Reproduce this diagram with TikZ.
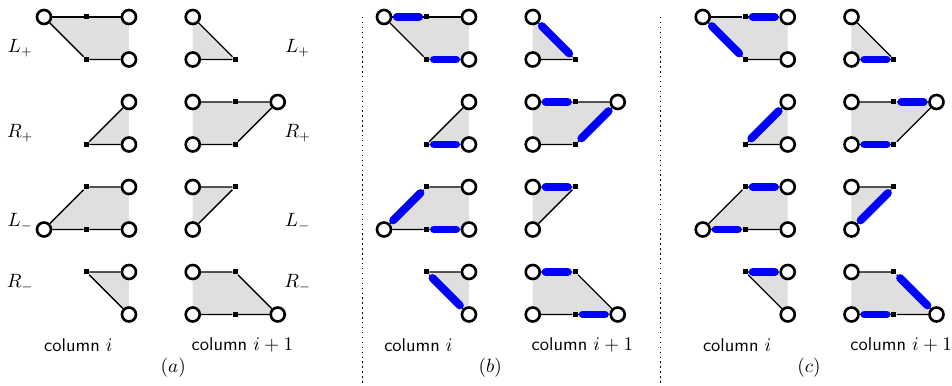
\documentclass[tikz,border=0pt]{standalone}
\usepackage{amsmath}
\usetikzlibrary{backgrounds}

\begin{document}
\begin{tikzpicture}[x=0.85cm, y=0.85cm,
    font=\fontsize{10.5}{12.5}\selectfont,
    pt/.style={circle, draw, line width=1.5pt, fill=white,
        minimum size=0.28cm, inner sep=0pt},
    sq/.style={rectangle, fill=black, minimum size=0.1cm, inner sep=0pt},
    edge/.style={thick},
    cell/.style={fill=gray!25},
    hl/.style={blue, line width=4.5pt, line cap=round,
        shorten <=2.6pt, shorten >=2.6pt},
    sep/.style={dotted, thick}
]
\useasboundingbox (-1.035,0.4) rectangle (21.365,-8.659);

% The same eight cells in each panel
\foreach \p/\dx/\cx in {a/0/3.04, b/8/2.5, c/15.5/2.5} {
  \begin{scope}[shift={(\dx,0)}]
    % L_+
    \node[pt] (\p-0-0) at (0,0) {};
    \node[sq] (\p-1-0) at (1,0) {};
    \node[pt] (\p-2-0) at (2,0) {};
    \node[sq] (\p-1-1) at (1,-1) {};
    \node[pt] (\p-2-1) at (2,-1) {};
    \node[pt] (\p-3-0) at (3.5,0) {};
    \node[pt] (\p-3-1) at (3.5,-1) {};
    \node[sq] (\p-4-1) at (4.5,-1) {};
    % R_+
    \node[pt] (\p-2-2) at (2,-2) {};
    \node[sq] (\p-1-3) at (1,-3) {};
    \node[pt] (\p-2-3) at (2,-3) {};
    \node[pt] (\p-3-2) at (3.5,-2) {};
    \node[sq] (\p-4-2) at (4.5,-2) {};
    \node[pt] (\p-5-2) at (5.5,-2) {};
    \node[pt] (\p-3-3) at (3.5,-3) {};
    \node[sq] (\p-4-3) at (4.5,-3) {};
    % L_-
    \node[sq] (\p-1-4) at (1,-4) {};
    \node[pt] (\p-2-4) at (2,-4) {};
    \node[pt] (\p-0-5) at (0,-5) {};
    \node[sq] (\p-1-5) at (1,-5) {};
    \node[pt] (\p-2-5) at (2,-5) {};
    \node[pt] (\p-3-4) at (3.5,-4) {};
    \node[sq] (\p-4-4) at (4.5,-4) {};
    \node[pt] (\p-3-5) at (3.5,-5) {};
    % R_-
    \node[sq] (\p-1-6) at (1,-6) {};
    \node[pt] (\p-2-6) at (2,-6) {};
    \node[pt] (\p-2-7) at (2,-7) {};
    \node[pt] (\p-3-6) at (3.5,-6) {};
    \node[sq] (\p-4-6) at (4.5,-6) {};
    \node[pt] (\p-3-7) at (3.5,-7) {};
    \node[sq] (\p-4-7) at (4.5,-7) {};
    \node[pt] (\p-5-7) at (5.5,-7) {};

    % grey cells
    \begin{scope}[on background layer]
      \fill[cell] (\p-0-0.center) -- (\p-2-0.center) -- (\p-2-1.center) -- (\p-1-1.center) -- cycle;
      \fill[cell] (\p-3-0.center) -- (\p-4-1.center) -- (\p-3-1.center) -- cycle;
      \fill[cell] (\p-2-2.center) -- (\p-2-3.center) -- (\p-1-3.center) -- cycle;
      \fill[cell] (\p-3-2.center) -- (\p-5-2.center) -- (\p-4-3.center) -- (\p-3-3.center) -- cycle;
      \fill[cell] (\p-1-4.center) -- (\p-2-4.center) -- (\p-2-5.center) -- (\p-0-5.center) -- cycle;
      \fill[cell] (\p-3-4.center) -- (\p-4-4.center) -- (\p-3-5.center) -- cycle;
      \fill[cell] (\p-1-6.center) -- (\p-2-6.center) -- (\p-2-7.center) -- cycle;
      \fill[cell] (\p-3-6.center) -- (\p-4-6.center) -- (\p-5-7.center) -- (\p-3-7.center) -- cycle;
    \end{scope}

    % cell borders
    \draw[edge] (\p-0-0) -- (\p-1-0) -- (\p-2-0);
    \draw[edge] (\p-0-0) -- (\p-1-1) -- (\p-2-1);
    \draw[edge] (\p-3-0) -- (\p-4-1) -- (\p-3-1);
    \draw[edge] (\p-2-2) -- (\p-1-3) -- (\p-2-3);
    \draw[edge] (\p-3-2) -- (\p-4-2) -- (\p-5-2) -- (\p-4-3) -- (\p-3-3);
    \draw[edge] (\p-2-4) -- (\p-1-4) -- (\p-0-5) -- (\p-1-5) -- (\p-2-5);
    \draw[edge] (\p-3-4) -- (\p-4-4) -- (\p-3-5);
    \draw[edge] (\p-2-6) -- (\p-1-6) -- (\p-2-7);
    \draw[edge] (\p-3-6) -- (\p-4-6) -- (\p-5-7) -- (\p-4-7) -- (\p-3-7);

    % captions
    \node (\p-coli) at (0.81,-7.72) {\sffamily column $i$};
    \node (\p-colj) at (4.67,-7.72) {\sffamily column $i+1$};
    \node (\p-cap) at (\cx,-8.26) {$(\p)$};
  \end{scope}
}

% Row labels
\node (lp1) at (-0.56,-0.73) {$L_+$};
\node (rp1) at (-0.56,-2.73) {$R_+$};
\node (lm1) at (-0.56,-4.82) {$L_-$};
\node (rm1) at (-0.56,-6.26) {$R_-$};
\node (lp2) at (5.97,-0.73) {$L_+$};
\node (rp2) at (5.97,-2.73) {$R_+$};
\node (lm2) at (5.97,-4.82) {$L_-$};
\node (rm2) at (5.97,-6.26) {$R_-$};

% Separators
\draw[sep] (7.5,0) -- (7.5,-8.66);
\draw[sep] (14.5,0) -- (14.5,-8.66);

% Panel (b)
\draw[hl] (b-0-0) -- (b-1-0);
\draw[hl] (b-1-1) -- (b-2-1);
\draw[hl] (b-3-0) -- (b-4-1);
\draw[hl] (b-1-3) -- (b-2-3);
\draw[hl] (b-3-2) -- (b-4-2);
\draw[hl] (b-5-2) -- (b-4-3);
\draw[hl] (b-1-4) -- (b-0-5);
\draw[hl] (b-1-5) -- (b-2-5);
\draw[hl] (b-3-4) -- (b-4-4);
\draw[hl] (b-1-6) -- (b-2-7);
\draw[hl] (b-3-6) -- (b-4-6);
\draw[hl] (b-4-7) -- (b-5-7);

% Panel (c)
\draw[hl] (c-1-0) -- (c-2-0);
\draw[hl] (c-0-0) -- (c-1-1);
\draw[hl] (c-3-1) -- (c-4-1);
\draw[hl] (c-2-2) -- (c-1-3);
\draw[hl] (c-4-2) -- (c-5-2);
\draw[hl] (c-3-3) -- (c-4-3);
\draw[hl] (c-1-4) -- (c-2-4);
\draw[hl] (c-0-5) -- (c-1-5);
\draw[hl] (c-4-4) -- (c-3-5);
\draw[hl] (c-1-6) -- (c-2-6);
\draw[hl] (c-4-6) -- (c-5-7);
\draw[hl] (c-3-7) -- (c-4-7);
\end{tikzpicture}
\end{document}
